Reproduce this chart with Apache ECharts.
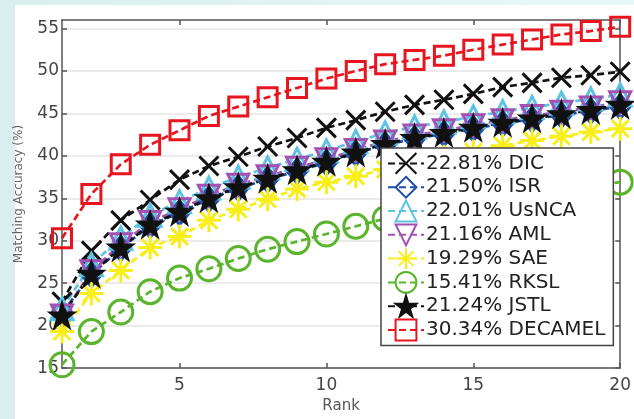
<!DOCTYPE html>
<html><head><meta charset="utf-8">
<script src="https://cdn.jsdelivr.net/npm/echarts@6/dist/echarts.min.js"></script>
<style>
html,body{margin:0;padding:0;width:634px;height:419px;overflow:hidden;background:linear-gradient(90deg,#d9efef,#eaf7f7);}
#panel{position:absolute;left:15px;top:5px;right:0;bottom:0;background:#fff;}
#chart{position:absolute;left:0;top:0;width:634px;height:419px;}
</style></head><body>
<div id="panel"></div><div id="chart"></div>
<script>
const ranks = [1,2,3,4,5,6,7,8,9,10,11,12,13,14,15,16,17,18,19,20];
const xTicks = [5,10,15,20];
const yTicks = [15,20,25,30,35,40,45,50,55];
const legendNames = ['22.81% DIC','21.50% ISR','22.01% UsNCA','21.16% AML','19.29% SAE','15.41% RKSL','21.24% JSTL','30.34% DECAMEL'];

const dic     = [22.8,28.8,32.4,34.8,37.2,38.8,39.9,41.1,42.1,43.3,44.2,45.2,46.0,46.6,47.3,48.1,48.6,49.2,49.5,49.9];
const isr     = [21.5,26.0,29.1,31.8,33.3,34.9,36.2,37.2,38.2,39.2,40.3,41.3,42.0,42.6,43.2,43.8,44.3,44.8,45.3,45.8];
const usnca   = [22.0,27.2,30.3,33.0,34.6,36.2,37.5,38.6,39.6,40.6,41.7,42.7,43.4,44.0,44.6,45.2,45.7,46.2,46.7,47.2];
const aml     = [21.2,26.4,29.6,32.2,33.7,35.3,36.6,37.6,38.6,39.6,40.7,41.7,42.4,43.0,43.6,44.2,44.7,45.2,45.7,46.3];
const sae     = [19.3,23.8,26.5,29.2,30.5,32.4,33.7,34.9,36.1,36.9,37.6,38.4,39.2,39.9,40.5,41.2,41.8,42.3,42.8,43.2];
const rksl    = [15.4,19.3,21.6,24.0,25.6,26.7,27.9,29.0,29.9,30.8,31.7,32.6,33.3,33.9,34.5,35.0,35.5,36.0,36.5,36.9];
const jstl    = [21.2,26.1,29.2,31.9,33.4,35.0,36.3,37.3,38.3,39.3,40.4,41.4,42.1,42.7,43.3,43.9,44.4,44.9,45.4,46.0];
const decamel = [30.3,35.5,39.0,41.3,43.0,44.7,45.8,46.9,48.0,49.1,50.0,50.8,51.3,51.8,52.5,53.1,53.7,54.3,54.7,55.2];

const values = [dic, isr, usnca, aml, sae, rksl, jstl, decamel];

const X_PATH = 'path://M0,0L20,20M20,0L0,20';
const AST_PATH = 'path://M10,0L10,20M0,10L20,10M3,3L17,17M17,3L3,17';
const INV_TRI = 'path://M0,0L20,0L10,18Z';
const STAR = 'path://M50,0L61,35L98,35L68,57L79,91L50,70L21,91L32,57L2,35L39,35Z';
const styles = [
  {c:'#111111', s:X_PATH, z:19, fill:'rgba(0,0,0,0)'},
  {c:'#1d4ea8', s:'diamond', z:[20,24], fill:'rgba(0,0,0,0)'},
  {c:'#5cc3e3', s:'triangle', z:22, fill:'rgba(0,0,0,0)'},
  {c:'#a451b4', s:INV_TRI, z:21, fill:'rgba(0,0,0,0)'},
  {c:'#f7ee1c', s:AST_PATH, z:24, fill:'rgba(0,0,0,0)'},
  {c:'#5ab52c', s:'circle', z:24, fill:'rgba(0,0,0,0)'},
  {c:'#111111', s:STAR, z:22, fill:'#111111'},
  {c:'#e8141e', s:'rect', z:19, fill:'rgba(0,0,0,0)'}
];

const series = values.map((vals, i) => ({
  type:'line',
  name: legendNames[i],
  data: ranks.map((r, j) => [r, vals[j]]),
  symbol: styles[i].s,
  symbolSize: styles[i].z,
  showAllSymbol: true,
  lineStyle: {color: styles[i].c, width: 2.7, type: [7,4]},
  itemStyle: {color: styles[i].fill, borderColor: styles[i].c, borderWidth: 3},
  emphasis: {disabled: true},
  animation: false
}));

const chart = echarts.init(document.getElementById('chart'), null, {renderer:'canvas'});
const axisCol = '#555';
chart.setOption({
  animation: false,
  grid: {left: 62, top: 20, right: 9, bottom: 45, containLabel: false},
  xAxis: [{
    type:'value', min:1, max:20, position:'bottom',
    name:'Rank', nameLocation:'middle', nameGap:30,
    nameTextStyle:{fontFamily:'DejaVu Sans', fontSize:15, color:'#555'},
    axisLine:{show:true, onZero:false, lineStyle:{color:axisCol, width:1.5}},
    axisTick:{show:true, inside:true, length:5, customValues:xTicks, lineStyle:{color:axisCol, width:1.5}},
    axisLabel:{customValues:xTicks, margin:9, fontFamily:'DejaVu Sans', fontSize:17, color:'#444'},
    splitLine:{show:false}
  },{
    type:'value', min:1, max:20, position:'top',
    axisLine:{show:true, onZero:false, lineStyle:{color:axisCol, width:1.5}},
    axisTick:{show:true, inside:true, length:5, customValues:xTicks, lineStyle:{color:axisCol, width:1.5}},
    axisLabel:{show:false}, splitLine:{show:false}
  }],
  yAxis: [{
    type:'value', min:15, max:56, position:'left',
    name:'Matching Accuracy (%)', nameLocation:'middle', nameGap:37, nameRotate:90,
    nameTextStyle:{fontFamily:'DejaVu Sans', fontSize:12, color:'#666'},
    axisLine:{show:true, onZero:false, lineStyle:{color:axisCol, width:1.5}},
    axisTick:{show:true, inside:true, length:5, customValues:yTicks, lineStyle:{color:axisCol, width:1.5}},
    axisLabel:{customValues:yTicks, margin:3, fontFamily:'DejaVu Sans', fontSize:17, color:'#444'},
    splitLine:{show:true, lineStyle:{color:'#e4e4e4', width:1.5}}
  },{
    type:'value', min:15, max:56, position:'right',
    axisLine:{show:true, onZero:false, lineStyle:{color:axisCol, width:1.5}},
    axisTick:{show:true, inside:true, length:5, customValues:yTicks, lineStyle:{color:axisCol, width:1.5}},
    axisLabel:{show:false}, splitLine:{show:false}
  }],
  legend: {
    orient:'vertical', left:381, top:148,
    itemWidth:36, itemHeight:26, itemGap:1,
    padding:[4,8,4,6],
    backgroundColor:'#fff', borderColor:'#444', borderWidth:1.5,
    textStyle:{fontFamily:'DejaVu Sans', fontSize:20, color:'#222', padding:[0,0,0,-3]},
    data: legendNames
  },
  series: series
});
</script>
</body></html>
